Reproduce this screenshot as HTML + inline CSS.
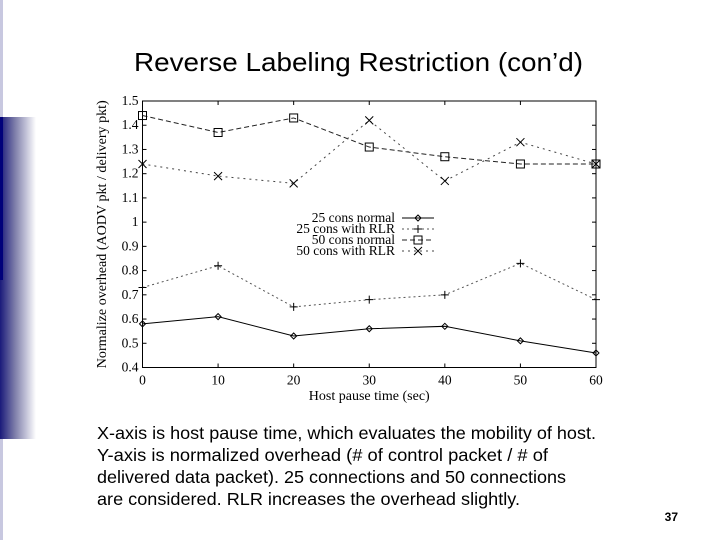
<!DOCTYPE html>
<html><head><meta charset="utf-8"><style>
html,body{margin:0;padding:0;background:#fff;width:720px;height:540px;overflow:hidden;font-family:"Liberation Sans",sans-serif}
</style></head><body>
<svg width="720" height="540" viewBox="0 0 720 540" xmlns="http://www.w3.org/2000/svg">
<defs><linearGradient id="g" x1="0" x2="1"><stop offset="0" stop-color="#1a1a7a"/><stop offset="0.4" stop-color="#7a7aa8"/><stop offset="1" stop-color="#ffffff"/></linearGradient></defs>
<rect x="0" y="0" width="3" height="540" fill="#c8c8e0"/>
<rect x="0" y="117" width="36" height="322" fill="url(#g)"/>
<rect x="0" y="117" width="3" height="163" fill="#00007a"/>
<text x="134" y="71" textLength="449" lengthAdjust="spacingAndGlyphs" font-size="26" fill="#000">Reverse Labeling Restriction (con’d)</text>
<g id="chart" font-family="Liberation Serif,serif" font-size="13.5"></g>
<g font-size="17.5" fill="#000">
<text x="97" y="439" textLength="499" lengthAdjust="spacingAndGlyphs">X-axis is host pause time, which evaluates the mobility of host.</text>
<text x="97" y="461" textLength="451" lengthAdjust="spacingAndGlyphs">Y-axis is normalized overhead (# of control packet / # of</text>
<text x="97" y="483" textLength="469" lengthAdjust="spacingAndGlyphs">delivered data packet). 25 connections and 50 connections</text>
<text x="97" y="505" textLength="423" lengthAdjust="spacingAndGlyphs">are considered. RLR increases the overhead slightly.</text>
</g>
<text x="678" y="521" text-anchor="end" font-size="12" font-weight="bold">37</text>
</svg>
<script>
const categories=[0,10,20,30,40,50,60];
const s25normal=[0.58,0.61,0.53,0.56,0.57,0.51,0.46];
const s25rlr=[0.73,0.82,0.65,0.68,0.70,0.83,0.68];
const s50normal=[1.44,1.37,1.43,1.31,1.27,1.24,1.24];
const s50rlr=[1.24,1.19,1.16,1.42,1.17,1.33,1.24];
const yTicks=[0.4,0.5,0.6,0.7,0.8,0.9,1,1.1,1.2,1.3,1.4,1.5];
const seriesNames=["25 cons normal","25 cons with RLR","50 cons normal","50 cons with RLR"];
const X0=142.5,X1=596,Y0=367.5,Y1=101;
const xs=v=>X0+(v-0)/60*(X1-X0);
const ys=v=>Y0-(v-0.4)/1.1*(Y0-Y1);
const NS="http://www.w3.org/2000/svg";
const g=document.getElementById('chart');
function mk(t,a,p){const e=document.createElementNS(NS,t);for(const k in a)e.setAttribute(k,a[k]);(p||g).appendChild(e);return e;}
const frame=mk('rect',{x:X0,y:Y1,width:X1-X0,height:Y0-Y1,fill:'none',stroke:'#000','stroke-width':1});


yTicks.forEach(v=>{
 const y=ys(v);
 mk('line',{x1:X0,x2:X0+4,y1:y,y2:y,stroke:'#000'});mk('line',{x1:X1,x2:X1-4,y1:y,y2:y,stroke:'#000'});
 const t=mk('text',{x:X0-4,y:y+4,'text-anchor':'end'});t.textContent=(v===1?'1':v.toFixed(1));
 
 
});
categories.forEach(v=>{
 const x=xs(v);
 mk('line',{x1:x,x2:x,y1:Y0,y2:Y0-4,stroke:'#000'});mk('line',{x1:x,x2:x,y1:Y1,y2:Y1+4,stroke:'#000'});
 const t=mk('text',{x:x,y:Y0+17,'text-anchor':'middle'});t.textContent=v;
 
 
});
const xt=mk('text',{x:(X0+X1)/2,y:400,'text-anchor':'middle','font-size':14});xt.textContent='Host pause time (sec)';


const yt=mk('text',{x:0,y:0,'text-anchor':'middle','font-size':14,textLength:268,lengthAdjust:'spacingAndGlyphs',transform:'translate(106,'+(Y0+Y1)/2+') rotate(-90)'});yt.textContent='Normalize overhead (AODV pkt / delivery pkt)';


function marker(type,x,y,p){
 if(type==0)mk('path',{d:`M${x-3} ${y}L${x} ${y-3}L${x+3} ${y}L${x} ${y+3}Z`,fill:'none',stroke:'#000'},p);
 else if(type==1)mk('path',{d:`M${x-4} ${y}H${x+4}M${x} ${y-4}V${y+4}`,stroke:'#000'},p);
 else if(type==2)mk('rect',{x:x-4,y:y-4,width:8,height:8,fill:'none',stroke:'#000'},p);
 else mk('path',{d:`M${x-4} ${y-4}L${x+4} ${y+4}M${x+4} ${y-4}L${x-4} ${y+4}`,stroke:'#000'},p);
}
const dashes=['none','2,3','5,3','2,4'];
const colors=['#000','#555','#222','#444'];
[s25normal,s25rlr,s50normal,s50rlr].forEach((s,i)=>{
 const grp=mk('g',{});
 
 
 mk('polyline',{points:s.map((v,j)=>xs(categories[j])+','+ys(v)).join(' '),fill:'none',stroke:colors[i],'stroke-width':1,'stroke-dasharray':dashes[i]},grp);
 s.forEach((v,j)=>marker(i,xs(categories[j]),ys(v),grp));
 const ly=218+i*11;
 const le=mk('g',{});
 
 
 const t=mk('text',{x:395,y:ly+4,'text-anchor':'end'},le);t.textContent=seriesNames[i];
 mk('line',{x1:402,x2:434,y1:ly,y2:ly,stroke:colors[i],'stroke-dasharray':dashes[i]},le);
 marker(i,418,ly,le);
});
</script>
</body></html>
